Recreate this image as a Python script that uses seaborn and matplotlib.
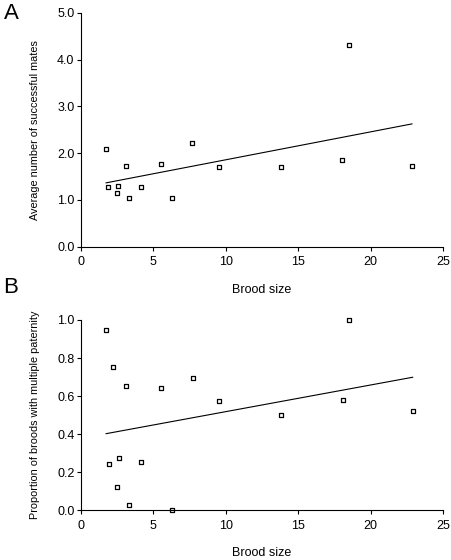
import numpy as np
import pandas as pd
import seaborn as sns
import matplotlib
matplotlib.use("Agg")
import matplotlib.pyplot as plt

# Panel A: average number of successful mates vs brood size
brood_a = [1.74, 1.90, 2.50, 2.55, 3.12, 3.35, 4.16, 5.54, 6.28, 7.68, 9.56, 13.79, 18.0, 18.48, 22.85]
mates_a = [2.09, 1.27, 1.15, 1.29, 1.73, 1.04, 1.27, 1.76, 1.03, 2.22, 1.70, 1.70, 1.86, 4.32, 1.72]

# Panel B: proportion of broods with multiple paternity vs brood size
brood_b = [1.74, 1.97, 2.25, 2.50, 2.62, 3.12, 3.35, 4.18, 5.52, 6.28, 7.72, 9.56, 13.79, 18.07, 18.5, 22.9]
prop_b = [0.947, 0.242, 0.755, 0.121, 0.275, 0.653, 0.028, 0.252, 0.644, 0.0, 0.694, 0.573, 0.50, 0.581, 1.0, 0.523]

x_ticks = [0, 5, 10, 15, 20, 25]

sns.set_style("ticks")
plt.rcParams["font.family"] = ["Liberation Sans", "DejaVu Sans"]
plt.rcParams["text.color"] = "black"
plt.rcParams["axes.labelcolor"] = "black"
plt.rcParams["xtick.color"] = "black"
plt.rcParams["ytick.color"] = "black"
plt.rcParams["axes.edgecolor"] = "black"
plt.rcParams["xtick.major.size"] = 3
plt.rcParams["ytick.major.size"] = 3
plt.rcParams["xtick.major.width"] = 0.8
plt.rcParams["ytick.major.width"] = 0.8
plt.rcParams["axes.linewidth"] = 0.8

fig = plt.figure(figsize=(4.52, 5.60), dpi=100)
ax_a = fig.add_axes([0.1785, 0.5595, 0.8023, 0.4178])
ax_b = fig.add_axes([0.1785, 0.0888, 0.8023, 0.3398])

df_a = pd.DataFrame({"brood": brood_a, "val": mates_a})
df_b = pd.DataFrame({"brood": brood_b, "val": prop_b})

scatter_style = dict(s=12, facecolors="white", edgecolors="black", linewidths=0.9, alpha=1)
line_style = dict(color="black", lw=0.8)

for ax, df in [(ax_a, df_a), (ax_b, df_b)]:
    sns.regplot(x="brood", y="val", data=df, ax=ax, ci=None, marker="s",
                scatter_kws=scatter_style, line_kws=line_style)
    sns.despine(ax=ax)
    ax.set_xlim(0, 25)
    ax.set_xticks(x_ticks)
    ax.tick_params(labelsize=9)
    ax.tick_params(axis="x", pad=4)
    ax.tick_params(axis="y", pad=1.5)
    ax.set_xlabel("Brood size", fontsize=9, labelpad=11)

ax_a.set_ylim(0, 5)
ax_a.set_yticks(np.arange(0, 5.01, 1.0))
ax_a.set_yticklabels([f"{v:.1f}" for v in np.arange(0, 5.01, 1.0)])
ax_a.set_ylabel("Average number of successful mates", fontsize=7.8, labelpad=12)

ax_b.set_ylim(0, 1)
ax_b.set_yticks(np.arange(0, 1.01, 0.2))
ax_b.set_yticklabels([f"{v:.1f}" for v in np.arange(0, 1.01, 0.2)])
ax_b.set_ylabel("Proportion of broods with multiple paternity", fontsize=7.8, labelpad=12)

for ax in (ax_a, ax_b):
    for c in ax.collections:
        c.set_clip_on(False)

fig.text(0.008, 0.995, "A", fontsize=16, va="top", ha="left")
fig.text(0.008, 0.505, "B", fontsize=16, va="top", ha="left")

fig.savefig("out.png", dpi=100)
